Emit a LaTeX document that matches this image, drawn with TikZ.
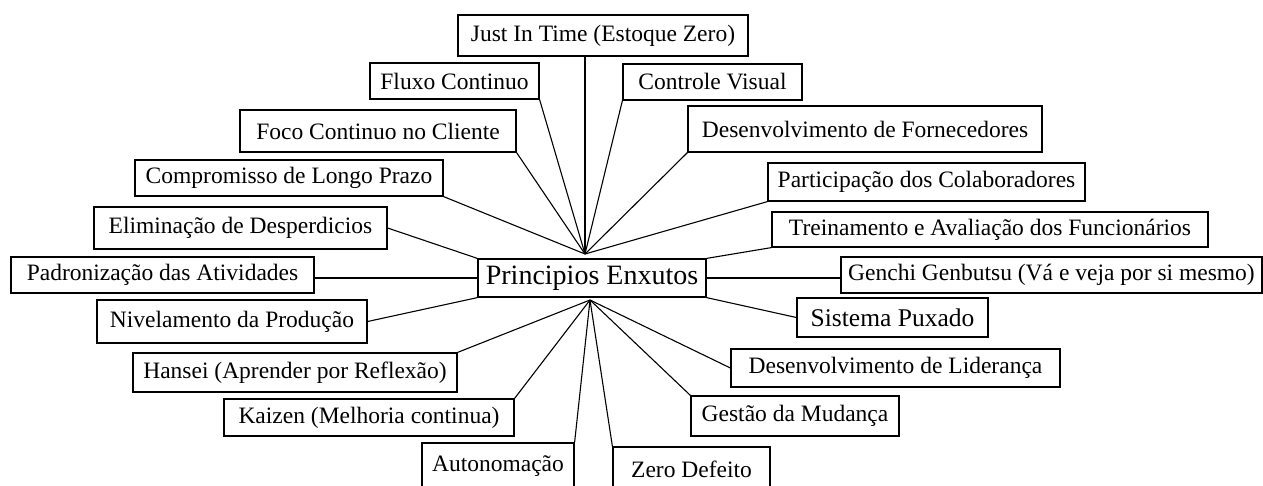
\documentclass[tikz,border=0pt]{standalone}
\usepackage{fontspec}
\setmainfont{Liberation Serif}

\begin{document}
\begin{tikzpicture}[x=1pt,y=-1pt,
    box/.style={draw, line width=1.2pt, inner sep=0pt, font=\fontsize{23.5}{28}\selectfont},
    link/.style={line width=1.1pt}]
    \useasboundingbox (0,0) rectangle (1263,485);
    \node[box, minimum width=228, minimum height=38, font=\fontsize{28}{32}\selectfont] (pe) at (592,278) {Principios Enxutos};
    \coordinate (topo) at (585,254);
    \coordinate (base) at (590,300);

    \node[box, minimum width=290, minimum height=41] (jit) at (603,35.5) {Just In Time (Estoque Zero)};
    \node[box, minimum width=169, minimum height=36] (fluxo) at (454.5,81) {Fluxo Continuo};
    \node[box, minimum width=179, minimum height=36] (controle) at (712.5,82) {Controle Visual};
    \node[box, minimum width=276, minimum height=42] (foco) at (378,131) {Foco Continuo no Cliente};
    \node[box, minimum width=354, minimum height=46] (fornec) at (865,129) {Desenvolvimento de Fornecedores};
    \node[box, minimum width=308, minimum height=36] (compr) at (289,178) {Compromisso de Longo Prazo};
    \node[box, minimum width=317, minimum height=38] (partic) at (926.5,182) {Participação dos Colaboradores};
    \node[box, minimum width=293, minimum height=42] (elim) at (240.5,228) {Eliminação de Desperdicios};
    \node[box, minimum width=436, minimum height=35] (trein) at (990,229.5) {Treinamento e Avaliação dos Funcionários};
    \node[box, minimum width=303, minimum height=36] (padr) at (162.5,275) {Padronização das Atividades};
    \node[box, minimum width=421, minimum height=36] (genchi) at (1051.5,275) {Genchi Genbutsu (Vá e veja por si mesmo)};
    \node[box, minimum width=270, minimum height=43] (nivel) at (232,321.5) {Nivelamento da Produção};
    \node[box, minimum width=191, minimum height=39, font=\fontsize{25.5}{30}\selectfont] (sist) at (892.5,317.5) {Sistema Puxado};
    \node[box, minimum width=324, minimum height=39] (hansei) at (295,372.5) {Hansei (Aprender por Reflexão)};
    \node[box, minimum width=329, minimum height=38] (lider) at (895.5,368) {Desenvolvimento de Liderança};
    \node[box, minimum width=290, minimum height=37] (kaizen) at (369,417.5) {Kaizen (Melhoria continua)};
    \node[box, minimum width=208, minimum height=40] (gestao) at (795,416) {Gestão da Mudança};
    \node[box, minimum width=152, minimum height=46] (auto) at (498,466) {Autonomação};
    \node[box, minimum width=157, minimum height=44] (zero) at (691.5,469) {Zero Defeito};

    \draw[link] (jit.south -| topo) -- (topo);
    \draw[link] (fluxo.south east) -- (topo);
    \draw[link] (controle.south west) -- (topo);
    \draw[link] (foco.south east) -- (topo);
    \draw[link] (fornec.south west) -- (topo);
    \draw[link] (compr.south east) -- (topo);
    \draw[link] (partic.south west) -- (topo);
    \draw[link] (elim.east) -- (pe.north west);
    \draw[link] (trein.south west) -- (pe.north east);
    \draw[link] (pe.west -| padr.east) -- (pe.west);
    \draw[link] (pe.east) -- (pe.east -| genchi.west);
    \draw[link] (nivel.east) -- (pe.south west);
    \draw[link] (sist.west) -- (pe.south east);
    \draw[link] (hansei.north east) -- (base);
    \draw[link] (kaizen.north east) -- (base);
    \draw[link] (auto.north east) -- (base);
    \draw[link] (zero.north west) -- (base);
    \draw[link] (gestao.north west) -- (base);
    \draw[link] (lider.west) -- (base);
\end{tikzpicture}
\end{document}
